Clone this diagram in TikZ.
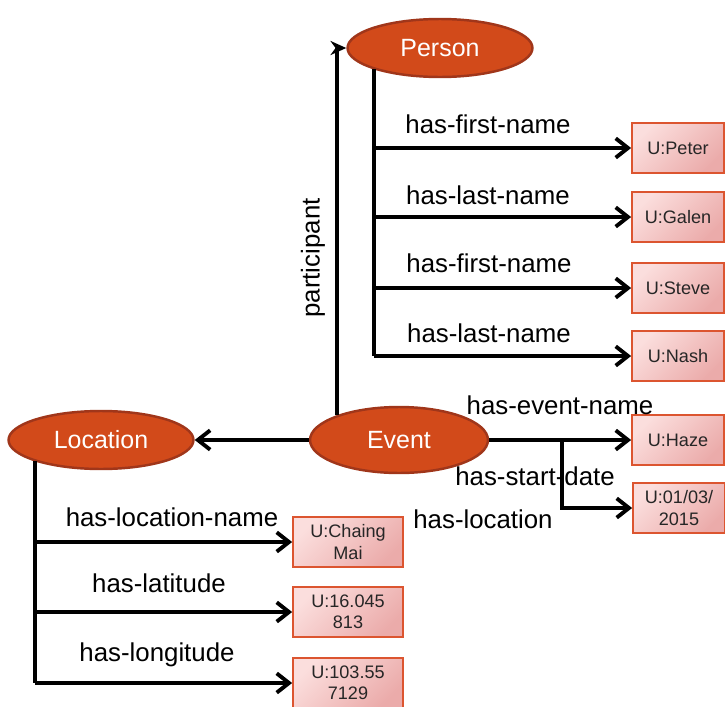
\documentclass[tikz,border=0pt]{standalone}
\usepackage{fontspec}
\setmainfont{Liberation Sans}
\usetikzlibrary{arrows.meta, shapes.geometric}
\definecolor{rust}{HTML}{D24A1A}
\definecolor{rustdark}{HTML}{A0361A}
\definecolor{boxline}{HTML}{DC5530}
\definecolor{pinklight}{HTML}{FBDEDD}
\definecolor{pinkdark}{HTML}{EBABAA}
\tikzset{>={Straight Barb[length=7pt, width=11pt, line width=2.2pt]}}

\begin{document}
\begin{tikzpicture}[x=0.02cm, y=-0.02cm,
  cls/.style={ellipse, draw=rustdark, line width=1.4pt, fill=rust, text=white, inner sep=0pt,
    minimum width=3.7cm, minimum height=1.16cm, font=\fontsize{14.2}{16}\selectfont},
  val/.style={rectangle, draw=boxline, line width=1pt, top color=pinklight, bottom color=pinkdark,
    shading angle=45, text=black!85, minimum width=1.84cm, minimum height=1cm, align=center,
    font=\fontsize{10.3}{12}\selectfont},
  rel/.style={font=\fontsize{14.7}{17}\selectfont},
  link/.style={line width=2pt}]
\useasboundingbox (0,0) rectangle (725,707);

\node[cls] (person) at (440,48) {Person};
\node[cls] (location) at (101,440) {Location};
\node[cls, minimum width=3.56cm, minimum height=1.32cm] (event) at (399,440) {Event};

\node[val] (peter) at (678,148) {U:Peter};
\node[val] (galen) at (678,217) {U:Galen};
\node[val] (steve) at (678,288) {U:Steve};
\node[val] (nash) at (678,356) {U:Nash};
\node[val] (haze) at (678,440) {U:Haze};
\node[val] (date) at (679,508) {U:01/03/\\2015};
\node[val, minimum width=2.2cm] (chaing) at (348,542) {U:Chaing\\Mai};
\node[val, minimum width=2.2cm] (lat) at (348,612) {U:16.045\\813};
\node[val, minimum width=2.2cm] (lon) at (348,683) {U:103.55\\7129};

\draw[link] (person.198) -- (person.198 |- nash.west);
\draw[link, ->] (person.198 |- peter.west) -- (peter.west);
\draw[link, ->] (person.198 |- galen.west) -- (galen.west);
\draw[link, ->] (person.198 |- steve.west) -- (steve.west);
\draw[link, ->] (person.198 |- nash.west) -- (nash.west);

\draw[link, -{Stealth[length=9pt, width=8pt]}] (event.158) |- (person.west);
\draw[link, ->] (event.west) -- (location.east);
\draw[link, ->] (event.east) -- (haze.west);
\coordinate (split) at (562,440);
\draw[link, ->] (split) |- (date.west);

\draw[link] (location.198) -- (location.198 |- lon.west);
\draw[link, ->] (location.198 |- chaing.west) -- (chaing.west);
\draw[link, ->] (location.198 |- lat.west) -- (lat.west);
\draw[link, ->] (location.198 |- lon.west) -- (lon.west);

\node[rel] (l1) at (488,124) {has-first-name};
\node[rel] (l2) at (488,195) {has-last-name};
\node[rel] (l3) at (489,263) {has-first-name};
\node[rel] (l4) at (489,333) {has-last-name};
\node[rel, rotate=90] (l5) at (313,258) {participant};
\node[rel] (l6) at (560,405) {has-event-name};
\node[rel] (l7) at (535,476) {has-start-date};
\node[rel] (l8) at (483,519) {has-location};
\node[rel] (l9) at (172,517) {has-location-name};
\node[rel] (l10) at (159,583) {has-latitude};
\node[rel] (l11) at (157,655) {has-longitude};
\end{tikzpicture}
\end{document}
